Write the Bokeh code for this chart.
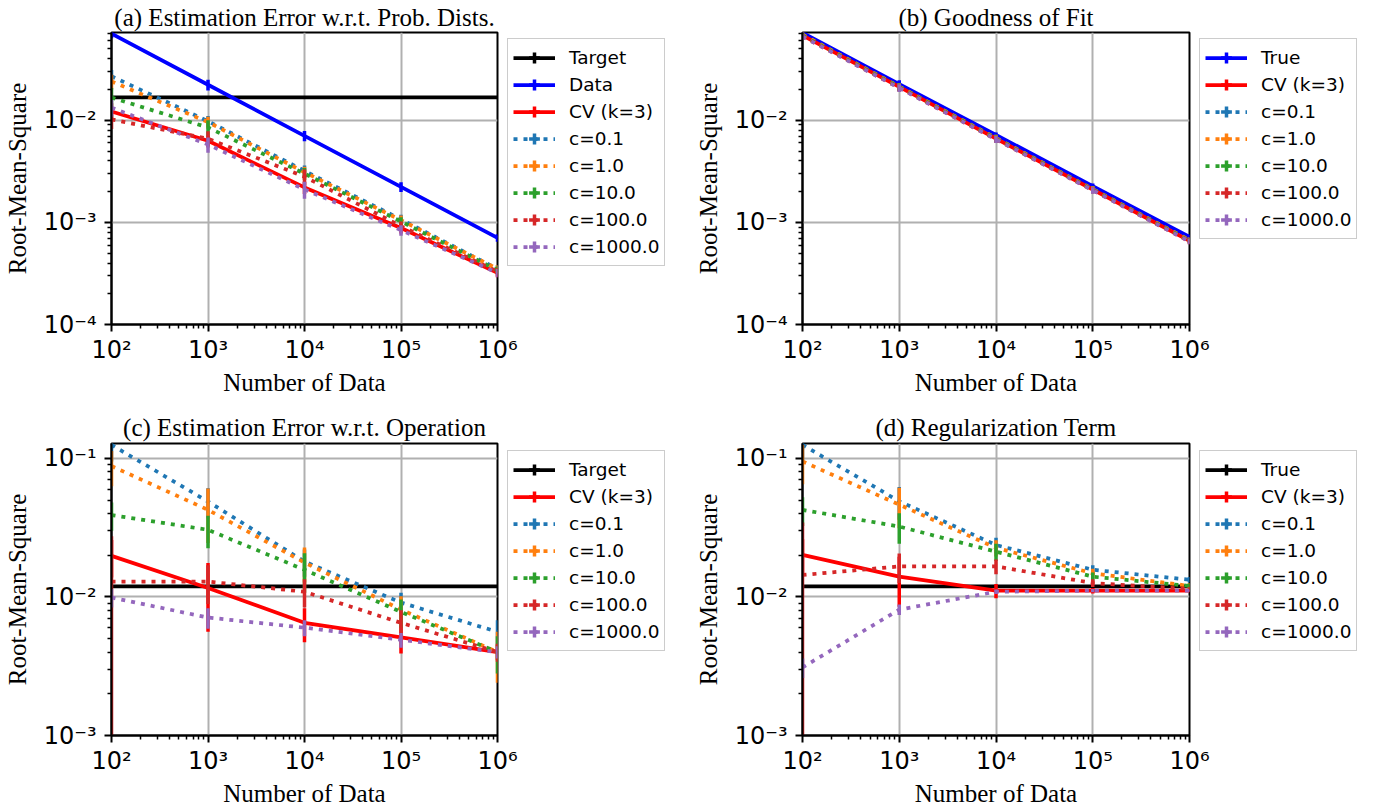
import numpy as np
from bokeh.plotting import figure
from bokeh.models import FixedTicker, Legend, LegendItem, Range1d
from bokeh.layouts import column, row
from bokeh.embed import file_html
from bokeh.resources import INLINE

# ---------------- data ----------------
N = [1e2, 1e3, 1e4, 1e5, 1e6]
x_ticks = [1e2, 1e3, 1e4, 1e5, 1e6]
x_tick_labels = ["10²", "10³", "10⁴", "10⁵", "10⁶"]
y_ticks_ab = [1e-4, 1e-3, 1e-2]
y_tick_labels_ab = ["10⁻⁴", "10⁻³", "10⁻²"]
y_ticks_cd = [1e-3, 1e-2, 1e-1]
y_tick_labels_cd = ["10⁻³", "10⁻²", "10⁻¹"]

labels_c = ["c=0.1", "c=1.0", "c=10.0", "c=100.0", "c=1000.0"]

# (a) Estimation Error w.r.t. Prob. Dists.
a_target = [0.0168, 0.0168, 0.0168, 0.0168, 0.0168]
a_target_err = [0.0002, 0.0002, 0.0002, 0.0002, 0.0002]
a_data = [0.0705, 0.0223, 0.00705, 0.00223, 0.000705]
a_data_err = [0.0070, 0.0027, 0.0008, 0.00024, 0.00006]
a_cv = [0.0122, 0.0063, 0.0022, 0.00088, 0.00032]
a_cv_err = [0.0025, 0.0007, 0.0003, 0.0001, 0.00003]
a_c01 = [0.027, 0.0098, 0.0032, 0.00107, 0.00035]
a_c01_err = [0.004, 0.0012, 0.0004, 0.00012, 0.00003]
a_c1 = [0.024, 0.0096, 0.0031, 0.00105, 0.00035]
a_c1_err = [0.004, 0.0012, 0.0004, 0.00012, 0.00003]
a_c10 = [0.0167, 0.0085, 0.0030, 0.00102, 0.00034]
a_c10_err = [0.004, 0.0015, 0.0004, 0.0001, 0.00003]
a_c100 = [0.0102, 0.0066, 0.0028, 0.00092, 0.00033]
a_c100_err = [0.002, 0.0012, 0.0005, 0.0001, 0.00003]
a_c1000 = [0.0133, 0.0058, 0.0021, 0.00084, 0.00032]
a_c1000_err = [0.0025, 0.0010, 0.0004, 0.0001, 0.00003]

# (b) Goodness of Fit
b_true = [0.0720, 0.0226, 0.0072, 0.00226, 0.00072]
b_true_err = [0.0030, 0.0020, 0.0004, 0.00015, 0.00004]
b_cv = [0.0680, 0.0212, 0.0066, 0.00210, 0.00066]
b_cv_err = [0.004, 0.0018, 0.0005, 0.00015, 0.00004]
b_c01 = [0.0690, 0.0214, 0.0067, 0.00212, 0.00067]
b_c01_err = [0.004, 0.0018, 0.0005, 0.00015, 0.00004]
b_c1 = [0.0688, 0.0213, 0.0067, 0.00211, 0.00067]
b_c1_err = [0.004, 0.0018, 0.0005, 0.00015, 0.00004]
b_c10 = [0.0675, 0.0211, 0.0066, 0.00209, 0.00066]
b_c10_err = [0.004, 0.0018, 0.0005, 0.00015, 0.00004]
b_c100 = [0.0665, 0.0208, 0.0065, 0.00207, 0.00065]
b_c100_err = [0.004, 0.0018, 0.0005, 0.00015, 0.00004]
b_c1000 = [0.0660, 0.0207, 0.0065, 0.00206, 0.00065]
b_c1000_err = [0.004, 0.0018, 0.0005, 0.00015, 0.00004]

# (c) Estimation Error w.r.t. Operation
c_target = [0.0119, 0.0119, 0.0119, 0.0119, 0.0119]
c_target_err = [0.0001, 0.0001, 0.0001, 0.0001, 0.0001]
c_cv = [0.0198, 0.0116, 0.0065, 0.0051, 0.0040]
c_cv_err = [0.006, 0.006, 0.0018, 0.0012, 0.0005]
c_c01 = [0.125, 0.0488, 0.0180, 0.0091, 0.0056]
c_c01_err = [0.03, 0.012, 0.004, 0.0016, 0.0012]
c_c1 = [0.088, 0.0425, 0.0177, 0.0081, 0.0040]
c_c1_err = [0.025, 0.018, 0.005, 0.002, 0.0016]
c_c10 = [0.039, 0.0305, 0.0157, 0.0078, 0.0040]
c_c10_err = [0.009, 0.008, 0.005, 0.0018, 0.0012]
c_c100 = [0.0129, 0.0129, 0.0109, 0.0065, 0.0040]
c_c100_err = [0.0145, 0.004, 0.0025, 0.0015, 0.0006]
c_c1000 = [0.0099, 0.0071, 0.0060, 0.0049, 0.0040]
c_c1000_err = [0.0015, 0.0012, 0.0008, 0.0006, 0.0004]

# (d) Regularization Term
d_true = [0.0119, 0.0119, 0.0119, 0.0119, 0.0119]
d_true_err = [0.0001, 0.0001, 0.0001, 0.0001, 0.0001]
d_cv = [0.0201, 0.0140, 0.0111, 0.0111, 0.0111]
d_cv_err = [0.006, 0.0055, 0.0013, 0.0005, 0.0003]
d_c01 = [0.125, 0.049, 0.0237, 0.0157, 0.0133]
d_c01_err = [0.03, 0.013, 0.003, 0.0012, 0.0006]
d_c1 = [0.095, 0.0463, 0.0226, 0.0148, 0.0120]
d_c1_err = [0.03, 0.015, 0.003, 0.0012, 0.0006]
d_c10 = [0.0425, 0.0322, 0.0212, 0.0140, 0.0120]
d_c10_err = [0.01, 0.008, 0.003, 0.001, 0.0005]
d_c100 = [0.0144, 0.0166, 0.0166, 0.0126, 0.0114]
d_c100_err = [0.02, 0.004, 0.002, 0.0008, 0.0004]
d_c1000 = [0.0031, 0.0081, 0.0109, 0.0111, 0.0111]
d_c1000_err = [0.0005, 0.0007, 0.0004, 0.0003, 0.0002]

# ---------------- styles ----------------
TAB = ["#1f77b4", "#ff7f0e", "#2ca02c", "#d62728", "#9467bd"]
LW = 3.75
DOT = "4 6"
SERIF = "Liberation Serif"
SANS = "DejaVu Sans"
ROW_H = 27
LEG_PAD = 5
OVERLAP = 20


def minor_list(lo_exp, hi_exp, vmax=None):
    out = []
    for e in range(lo_exp, hi_exp):
        for m in range(2, 10):
            v = m * 10.0 ** e
            if vmax is None or v <= vmax:
                out.append(v)
    return out


def build(title, y_lo, y_hi, y_ticks, y_labels, y_minor, series,
          frame_w, frame_h, b_top, b_bottom, title_standoff):
    p = figure(frame_width=frame_w, frame_height=frame_h,
               x_axis_type="log", y_axis_type="log",
               x_range=Range1d(x_ticks[0], x_ticks[-1]), y_range=Range1d(y_lo, y_hi),
               output_backend="svg", toolbar_location=None,
               min_border_left=104, min_border_right=OVERLAP + 10,
               min_border_top=b_top, min_border_bottom=b_bottom,
               x_axis_label="Number of Data", y_axis_label="Root-Mean-Square")
    p.background_fill_color = "white"
    p.border_fill_color = "white"
    p.outline_line_color = "black"
    p.outline_line_width = 2
    p.outline_line_alpha = 1

    p.title.text = title
    p.title.align = "center"
    p.title.text_font = SERIF
    p.title.text_font_size = "25px"
    p.title.text_font_style = "normal"
    p.title.text_color = "black"
    p.title.standoff = title_standoff

    p.xaxis.ticker = FixedTicker(ticks=x_ticks, minor_ticks=minor_list(2, 6))
    p.xaxis.major_label_overrides = dict(zip(x_ticks, x_tick_labels))
    p.yaxis.ticker = FixedTicker(ticks=y_ticks, minor_ticks=y_minor)
    p.yaxis.major_label_overrides = dict(zip(y_ticks, y_labels))

    for ax in (p.xaxis[0], p.yaxis[0]):
        ax.axis_label_text_font = SERIF
        ax.axis_label_text_font_size = "25px"
        ax.axis_label_text_font_style = "normal"
        ax.axis_label_text_color = "black"
        ax.axis_label_text_line_height = 1.0
        ax.major_label_text_font = SANS
        ax.major_label_text_font_size = "24px"
        ax.major_label_text_color = "black"
        ax.major_label_text_line_height = 1.0
        ax.axis_line_color = "black"
        ax.axis_line_width = 2
        ax.major_tick_line_color = "black"
        ax.major_tick_line_width = 2
        ax.major_tick_out = 7
        ax.major_tick_in = 0
        ax.minor_tick_line_color = "black"
        ax.minor_tick_line_width = 1.5
        ax.minor_tick_out = 4
        ax.minor_tick_in = 0
    p.xaxis.major_label_standoff = 4
    p.xaxis.axis_label_standoff = 2
    p.yaxis.major_label_standoff = 8
    p.yaxis.axis_label_standoff = 10

    p.grid.grid_line_color = "#b0b0b0"
    p.grid.grid_line_width = 2

    for label, vals, errs, color, dotted in series:
        lo = [max(v - e, 1e-9) for v, e in zip(vals, errs)]
        hi = [v + e for v, e in zip(vals, errs)]
        p.segment(x0=N, y0=lo, x1=N, y1=hi, line_color=color, line_width=3.5)
        p.line(N, vals, line_color=color, line_width=LW,
               line_dash=DOT if dotted else "solid")
    return p


def legend_panel(series, width, height, off, lift):
    # a bare, transparent companion canvas that only carries the legend; it
    # overlaps the plot's right border so the legend sits 10px right of the frame
    lf = figure(width=width + off, height=height, x_range=Range1d(0, 1), y_range=Range1d(0, 1),
                output_backend="svg", toolbar_location=None,
                x_axis_location=None, y_axis_location=None,
                min_border_left=0, min_border_right=0, min_border_top=0, min_border_bottom=0)
    lf.outline_line_color = None
    lf.grid.visible = False
    lf.background_fill_alpha = 0
    lf.border_fill_alpha = 0
    lf.margin = (-lift, 0, 0, -(OVERLAP + off))
    items = []
    for label, vals, errs, color, dotted in series:
        # data lie outside this canvas' ranges, so only the legend glyphs show
        ln = lf.line(N, vals, line_color=color, line_width=LW,
                     line_dash=DOT if dotted else "solid")
        mk = lf.scatter(N, vals, marker="cross", size=0, line_color=color, line_width=3.5)
        items.append(LegendItem(label=label, renderers=[ln, mk]))
    leg = Legend(items=items, location="top_left", orientation="vertical")
    leg.label_text_font = SANS
    leg.label_text_font_size = "18.5px"
    leg.label_text_color = "black"
    leg.glyph_width = 42
    leg.glyph_height = ROW_H
    leg.label_height = ROW_H
    leg.spacing = 0
    leg.padding = LEG_PAD
    leg.margin = off
    leg.label_standoff = 14
    leg.border_line_color = "#cccccc"
    leg.border_line_width = 1.5
    leg.border_line_alpha = 1
    leg.background_fill_color = "white"
    leg.background_fill_alpha = 1
    lf.add_layout(leg, "center")
    return lf


ser_a = [("Target", a_target, a_target_err, "black", False),
         ("Data", a_data, a_data_err, "blue", False),
         ("CV (k=3)", a_cv, a_cv_err, "red", False)] + \
        [(l, v, e, c, True) for l, v, e, c in zip(labels_c,
                                                    [a_c01, a_c1, a_c10, a_c100, a_c1000],
                                                    [a_c01_err, a_c1_err, a_c10_err, a_c100_err, a_c1000_err],
                                                    TAB)]
ser_b = [("True", b_true, b_true_err, "blue", False),
         ("CV (k=3)", b_cv, b_cv_err, "red", False)] + \
        [(l, v, e, c, True) for l, v, e, c in zip(labels_c,
                                                    [b_c01, b_c1, b_c10, b_c100, b_c1000],
                                                    [b_c01_err, b_c1_err, b_c10_err, b_c100_err, b_c1000_err],
                                                    TAB)]
ser_c = [("Target", c_target, c_target_err, "black", False),
         ("CV (k=3)", c_cv, c_cv_err, "red", False)] + \
        [(l, v, e, c, True) for l, v, e, c in zip(labels_c,
                                                    [c_c01, c_c1, c_c10, c_c100, c_c1000],
                                                    [c_c01_err, c_c1_err, c_c10_err, c_c100_err, c_c1000_err],
                                                    TAB)]
ser_d = [("True", d_true, d_true_err, "black", False),
         ("CV (k=3)", d_cv, d_cv_err, "red", False)] + \
        [(l, v, e, c, True) for l, v, e, c in zip(labels_c,
                                                    [d_c01, d_c1, d_c10, d_c100, d_c1000],
                                                    [d_c01_err, d_c1_err, d_c10_err, d_c100_err, d_c1000_err],
                                                    TAB)]

minor_ab = minor_list(-4, -1, vmax=0.0724)
minor_cd = minor_list(-3, 0, vmax=0.128)

TOP1, BOT1, TOP2, BOT2 = 25, 79, 40, 67
H1 = TOP1 + 292 + BOT1
H2 = TOP2 + 292 + BOT2

pa = build("(a) Estimation Error w.r.t. Prob. Dists.", 1e-4, 0.0724, y_ticks_ab, y_tick_labels_ab,
           minor_ab, ser_a, 386, 292, TOP1, BOT1, 3)
pb = build("(b) Goodness of Fit", 1e-4, 0.0724, y_ticks_ab, y_tick_labels_ab,
           minor_ab, ser_b, 387, 292, TOP1, BOT1, 3)
pc = build("(c) Estimation Error w.r.t. Operation", 1e-3, 0.128, y_ticks_cd, y_tick_labels_cd,
           minor_cd, ser_c, 386, 292, TOP2, BOT2, 6)
pd = build("(d) Regularization Term", 1e-3, 0.128, y_ticks_cd, y_tick_labels_cd,
           minor_cd, ser_d, 387, 292, TOP2, BOT2, 6)

W_LA = 684 - (104 + 386 + 10)
W_LB = 1359 - 684 - (104 + 387 + 10)
la = legend_panel(ser_a, W_LA, H1, TOP1 + 7, 26)
lb = legend_panel(ser_b, W_LB, H1, TOP1 + 7, 26)
lc = legend_panel(ser_c, W_LA, H2, TOP2 + 7, 40)
ld = legend_panel(ser_d, W_LB, H2, TOP2 + 7, 40)

layout = column(row(pa, la, pb, lb, spacing=0), row(pc, lc, pd, ld, spacing=0), spacing=0)

open("out.html", "w").write(file_html(layout, INLINE))
